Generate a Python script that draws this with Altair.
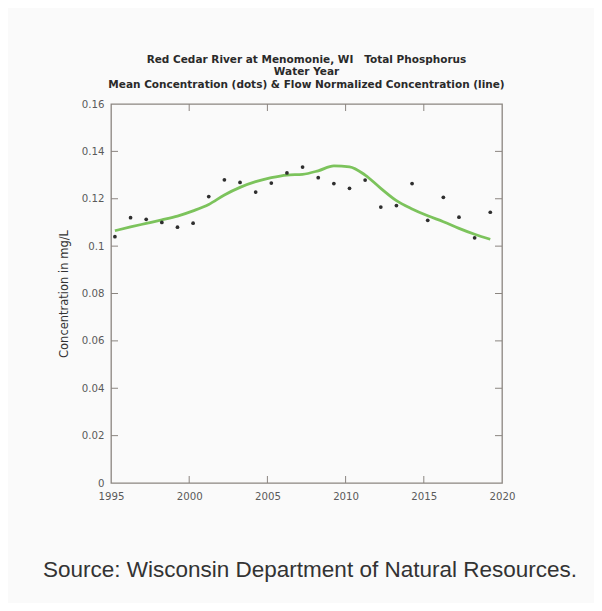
import altair as alt
import pandas as pd

# ---- data ----
water_years = [1995, 1996, 1997, 1998, 1999, 2000, 2001, 2002, 2003, 2004, 2005, 2006,
               2007, 2008, 2009, 2010, 2011, 2012, 2013, 2014, 2015, 2016, 2017, 2018, 2019]
mean_conc = [0.104, 0.112, 0.1113, 0.110, 0.108, 0.1097, 0.1209, 0.128, 0.1269, 0.1228,
             0.1266, 0.1309, 0.1334, 0.1289, 0.1264, 0.1244, 0.1279, 0.1165, 0.1171,
             0.1264, 0.1109, 0.1206, 0.1122, 0.1035, 0.1143]
flow_norm = [0.1065, 0.1081, 0.1096, 0.1111, 0.1127, 0.1149, 0.1176, 0.1216, 0.1248,
             0.1272, 0.1289, 0.1300, 0.1303, 0.1318, 0.1339, 0.1335, 0.1300, 0.1244,
             0.1192, 0.1157, 0.1128, 0.1103, 0.1075, 0.1050, 0.1029]
x_ticks = [1995, 2000, 2005, 2010, 2015, 2020]
y_ticks = [0, 0.02, 0.04, 0.06, 0.08, 0.1, 0.12, 0.14, 0.16]
title_lines = ["Red Cedar River at Menomonie, WI\u00a0\u00a0\u00a0Total Phosphorus",
               "Water Year",
               "Mean Concentration (dots) & Flow Normalized Concentration (line)"]
y_title = "Concentration in mg/L"
source = "Source: Wisconsin Department of Natural Resources."

W, H = 391, 379
TICK = 7
FRAME = "#8b8580"
LBL_FONT = "DejaVu Sans"

df = pd.DataFrame({
    "year": [y + 0.25 for y in water_years],
    "mean": mean_conc,
    "fn": flow_norm,
})
xt = pd.DataFrame({"v": x_ticks[1:-1]})
yt = pd.DataFrame({"v": y_ticks[1:-1]})

xs = alt.Scale(domain=[1995, 2020], nice=False, zero=False)
ys = alt.Scale(domain=[0, 0.16], nice=False)

x_enc = alt.X("year:Q", scale=xs, title=None,
              axis=alt.Axis(values=x_ticks, format="d", ticks=False, domain=False,
                            grid=False, labelPadding=8, labelFontSize=10.2,
                            labelColor="#5a5a5a", labelFont=LBL_FONT,
                            labelFlush=False))
y_axis = alt.Axis(values=y_ticks, format="~g", ticks=False, domain=False, grid=False,
                  labelPadding=7, labelFontSize=10.2, labelColor="#5a5a5a",
                  labelFont=LBL_FONT, title=y_title, titleFontSize=11.5,
                  titleFontWeight="normal", titleColor="#333", titlePadding=12,
                  titleFont=LBL_FONT)

line = alt.Chart(df).mark_line(color="#7cc35c", strokeWidth=2.8, interpolate="monotone").encode(
    x=x_enc,
    y=alt.Y("fn:Q", scale=ys, axis=y_axis),
)
dots = alt.Chart(df).mark_point(filled=True, color="#2e2e2e", size=14, opacity=1).encode(
    x=alt.X("year:Q", scale=xs),
    y=alt.Y("mean:Q", scale=ys),
)

tb = alt.Chart(xt).mark_rule(color=FRAME, strokeWidth=1).encode(
    x=alt.X("v:Q", scale=xs), y=alt.value(H), y2=alt.value(H - TICK))
tt = alt.Chart(xt).mark_rule(color=FRAME, strokeWidth=1).encode(
    x=alt.X("v:Q", scale=xs), y=alt.value(0), y2=alt.value(TICK))
tl = alt.Chart(yt).mark_rule(color=FRAME, strokeWidth=1).encode(
    y=alt.Y("v:Q", scale=ys), x=alt.value(0), x2=alt.value(TICK))
tr = alt.Chart(yt).mark_rule(color=FRAME, strokeWidth=1).encode(
    y=alt.Y("v:Q", scale=ys), x=alt.value(W), x2=alt.value(W - TICK))

src = alt.Chart(pd.DataFrame({"t": [source]})).mark_text(
    font="Liberation Sans", fontSize=22.5, color="#333333", align="center",
    baseline="middle").encode(text="t:N", x=alt.value(199), y=alt.value(466))

chart = alt.layer(line, dots, tb, tt, tl, tr, src).properties(
    width=W, height=H,
    autosize=alt.AutoSizeParams(type="none"),
    padding={"left": 103, "top": 96, "right": 92, "bottom": 120},
    background="#fafafa",
    title=alt.Title(title_lines, fontSize=10.5, font="DejaVu Sans", fontWeight="bold",
                    color="#2a2a2a", lineHeight=12.5, offset=9, anchor="middle", dx=0),
).configure_view(stroke=FRAME, strokeWidth=1.3)

chart.save("out.html", embed_options={"renderer": "svg", "actions": False})
